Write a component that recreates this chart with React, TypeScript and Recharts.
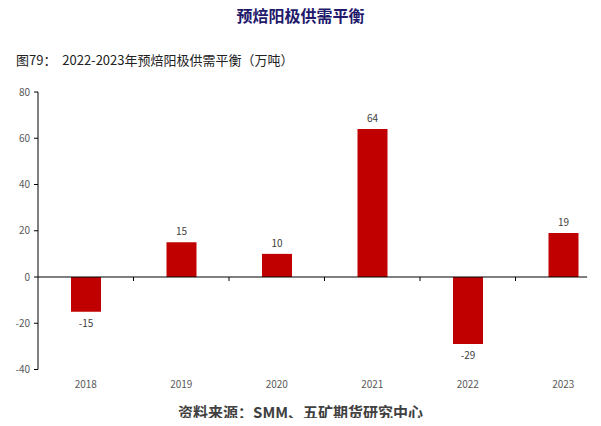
import React from 'react';
import { BarChart, Bar, XAxis, YAxis, ReferenceLine, LabelList } from 'recharts';

const years = ['2018', '2019', '2020', '2021', '2022', '2023'];
const balance = [-15, 15, 10, 64, -29, 19];
const yTicks = [-40, -20, 0, 20, 40, 60, 80];

const data = years.map((year, i) => ({ year, value: balance[i] }));

const font = '"Noto Sans CJK SC", "Noto Sans", sans-serif';

// value labels sit above positive bars and below negative ones
const renderValue = (props: any) => {
  const { x, y, width, height, value } = props;
  const top = Math.min(y, y + height);
  const bottom = Math.max(y, y + height);
  const ty = value >= 0 ? top - 7 : bottom + 15;
  return (
    <text x={x + width / 2} y={ty} textAnchor="middle" fill="#404040" fontSize={10} fontFamily={font}>
      {value}
    </text>
  );
};

// zero line: stops a little short of the last band, small ticks between categories
const renderZeroLine = (props: any) => {
  const { x1, x2, y1 } = props;
  const n = years.length;
  const band = (x2 - x1) / n;
  const end = x1 + band * (n - 0.25);
  return (
    <g>
      <line x1={x1} y1={y1} x2={end} y2={y1} stroke="#000" strokeWidth={1} />
      {years.slice(1).map((_, i) => (
        <line key={i} x1={x1 + band * (i + 1)} y1={y1} x2={x1 + band * (i + 1)} y2={y1 + 4} stroke="#000" strokeWidth={1} />
      ))}
    </g>
  );
};

const App: React.FC = () => {
  return (
    <div style={{ position: 'relative', width: 601, height: 426, margin: -8, overflow: 'hidden', background: '#fff', fontFamily: font }}>
      <div style={{ position: 'absolute', top: 3, left: 0, width: 601, textAlign: 'center', fontSize: 16, fontWeight: 700, color: '#1f1a6b' }}>
        预焙阳极供需平衡
      </div>
      <div style={{ position: 'absolute', top: 50, left: 16, fontSize: 13, color: '#222', whiteSpace: 'pre' }}>
        {'图79：  2022-2023年预焙阳极供需平衡（万吨）'}
      </div>
      <div style={{ position: 'absolute', top: 0, left: 0 }}>
        <BarChart width={620} height={426} data={data} margin={{ top: 92, right: 9, left: 0, bottom: 36.5 }}>
          <XAxis
            dataKey="year"
            axisLine={false}
            tickLine={false}
            tickSize={0}
            tickMargin={11}
            height={20}
            tick={{ fill: '#595959', fontSize: 10, fontFamily: font }}
          />
          <YAxis
            width={38}
            domain={[-40, 80]}
            ticks={yTicks}
            interval={0}
            axisLine={{ stroke: '#000' }}
            tickLine={{ stroke: '#000' }}
            tickSize={4}
            tickMargin={4}
            tick={{ fill: '#595959', fontSize: 10, fontFamily: font }}
          />
          <ReferenceLine y={0} shape={renderZeroLine} />
          <Bar dataKey="value" fill="#c00000" barSize={30} isAnimationActive={false}>
            <LabelList dataKey="value" content={renderValue} />
          </Bar>
        </BarChart>
      </div>
      <div style={{ position: 'absolute', top: 401, left: 0, width: 601, textAlign: 'center', fontSize: 15, fontWeight: 700, color: '#404040' }}>
        资料来源：SMM、五矿期货研究中心
      </div>
    </div>
  );
};

export default App;
